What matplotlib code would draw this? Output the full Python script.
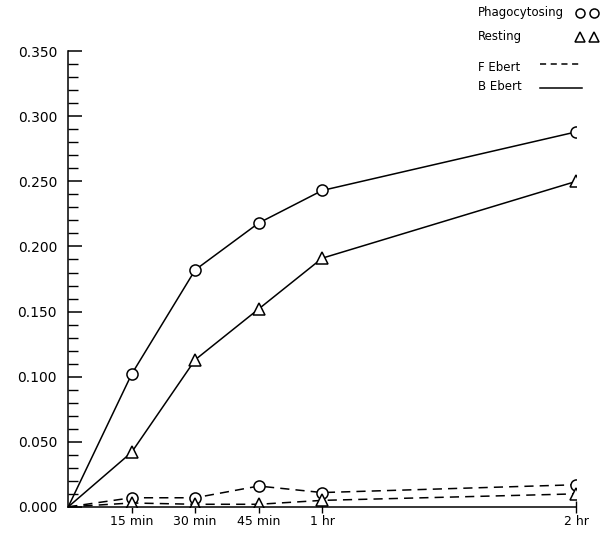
"""Ebert curves: phagocytosing vs resting cells over time."""

import matplotlib
matplotlib.use("Agg")
import matplotlib.pyplot as plt
from matplotlib.lines import Line2D

# time points in minutes
times = [0, 15, 30, 45, 60, 120]
tick_pos = [15, 30, 45, 60, 120]
tick_labels = ["15 min", "30 min", "45 min", "1 hr", "2 hr"]

# B Ebert (solid)
b_phago = [0.0, 0.102, 0.182, 0.218, 0.243, 0.288]
b_rest = [0.0, 0.042, 0.113, 0.152, 0.191, 0.250]
# F Ebert (dashed)
f_phago = [0.0, 0.007, 0.007, 0.016, 0.011, 0.017]
f_rest = [0.0, 0.003, 0.002, 0.002, 0.005, 0.010]

y_ticks = [0.0, 0.05, 0.10, 0.15, 0.20, 0.25, 0.30, 0.35]

plt.rcParams["font.family"] = "DejaVu Sans"

fig = plt.figure(figsize=(6.09, 5.33), dpi=100)
ax = fig.add_axes([0.112, 0.049, 0.834, 0.855])

style = dict(color="black", lw=1.1, markersize=8, markerfacecolor="white",
             markeredgecolor="black", markeredgewidth=1.1)
marks = list(range(1, 6))
ax.plot(times, b_phago, "-", marker="o", markevery=marks, **style)
ax.plot(times, b_rest, "-", marker="^", markevery=marks, **style)
ax.plot(times, f_phago, "--", marker="o", markevery=marks, dashes=(6, 4), **style)
ax.plot(times, f_rest, "--", marker="^", markevery=marks, dashes=(6, 4), **style)

ax.set_xlim(0, 120)
ax.set_ylim(0, 0.35)
ax.spines["top"].set_visible(False)
ax.spines["right"].set_visible(False)
for s in ["left", "bottom"]:
    ax.spines[s].set_linewidth(1.1)

ax.set_yticks(y_ticks)
ax.set_yticklabels([f"{v:.3f}" for v in y_ticks], fontsize=10)
ax.set_yticks([i * 0.01 for i in range(36)], minor=True)
ax.tick_params(axis="y", which="major", direction="in", length=10, width=1.1, pad=8)
ax.tick_params(axis="y", which="minor", direction="in", length=7, width=1.0)

ax.set_xticks(tick_pos)
ax.set_xticklabels(tick_labels, fontsize=9)
ax.tick_params(axis="x", direction="inout", length=8, width=1.0, pad=2)

# legend drawn by hand in the top right corner
fig.text(0.785, 0.976, "Phagocytosing", fontsize=8.5, va="center")
fig.text(0.785, 0.931, "Resting", fontsize=8.5, va="center")
fig.text(0.785, 0.874, "F Ebert", fontsize=8.5, va="center")
fig.text(0.785, 0.838, "B Ebert", fontsize=8.5, va="center")
mk = dict(ls="none", markersize=6.5, markerfacecolor="white",
          markeredgecolor="black", markeredgewidth=1.1)
fig.add_artist(Line2D([0.952, 0.976], [0.976, 0.976], marker="o", **mk))
fig.add_artist(Line2D([0.952, 0.976], [0.931, 0.931], marker="^", **mk))
fig.add_artist(Line2D([0.887, 0.952], [0.879, 0.879], color="black", lw=1.1,
                      ls="--", dashes=(4, 3)))
fig.add_artist(Line2D([0.887, 0.955], [0.834, 0.834], color="black", lw=1.1))

fig.savefig("out.png", dpi=100)
